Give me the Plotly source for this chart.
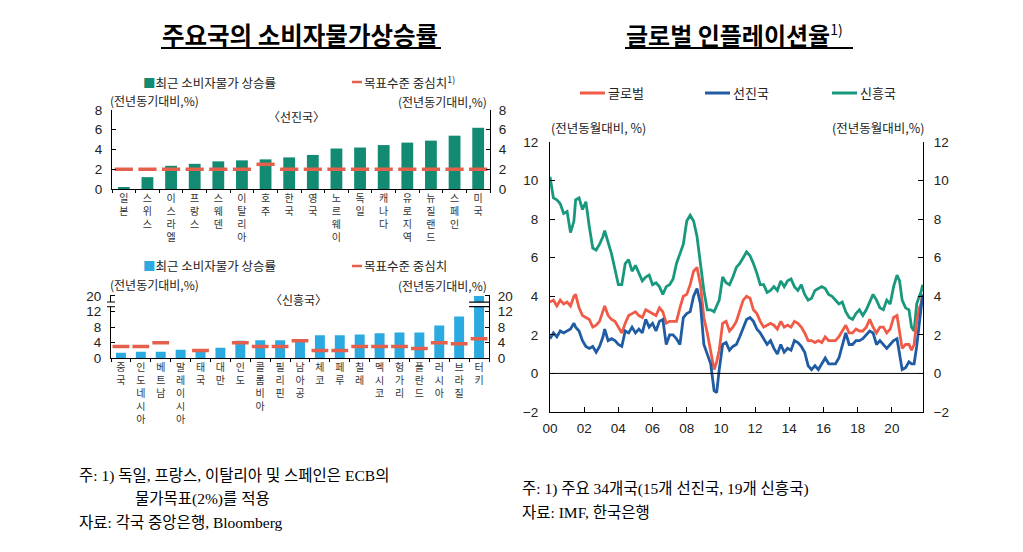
import plotly.graph_objects as go

# ---------------- data ----------------
adv_names = ["일본", "스위스", "이스라엘", "프랑스", "스웨덴", "이탈리아", "호주", "한국",
             "영국", "노르웨이", "독일", "캐나다", "유로지역", "뉴질랜드", "스페인", "미국"]
adv_cpi = [0.2, 1.2, 2.35, 2.55, 2.8, 2.9, 3.0, 3.2, 3.45, 4.1, 4.2, 4.45, 4.7, 4.9, 5.4, 6.2]
adv_target = [2, 2, 2, 2, 2, 2, 2.5, 2, 2, 2, 2, 2, 2, 2, 2, 2]

em_names = ["중국", "인도네시아", "베트남", "말레이시아", "태국", "대만", "인도", "콜롬비아",
            "필리핀", "남아공", "체코", "페루", "칠레", "멕시코", "헝가리", "폴란드",
            "러시아", "브라질", "터키"]
em_cpi = [1.4, 1.7, 1.7, 2.2, 1.9, 2.7, 4.5, 4.6, 4.6, 4.8, 5.9, 5.9, 6.1, 6.4, 6.6, 6.6,
          8.4, 10.7, 19.9]
em_target = [3, 3, 4, None, 2, None, 4, 3, 3, 4.5, 2, 2, 3, 3, 3, 2.5, 4, 3.75, 5]

years = [2000.0, 2000.2, 2000.4, 2000.6, 2000.8, 2001.0, 2001.2, 2001.4, 2001.5, 2001.7,
         2001.9, 2002.1, 2002.3, 2002.5, 2002.7, 2002.9, 2003.1, 2003.2, 2003.4, 2003.6,
         2003.8, 2004.0, 2004.2, 2004.4, 2004.6, 2004.8, 2005.0, 2005.2, 2005.4, 2005.6,
         2005.8, 2006.0, 2006.2, 2006.4, 2006.6, 2006.8, 2007.0, 2007.2, 2007.4, 2007.6,
         2007.8, 2008.0, 2008.2, 2008.4, 2008.6, 2008.8, 2009.0, 2009.2, 2009.4, 2009.6,
         2009.75, 2009.9, 2010.1, 2010.3, 2010.5, 2010.7, 2010.9, 2011.1, 2011.3, 2011.5,
         2011.7, 2011.9, 2012.1, 2012.3, 2012.5, 2012.7, 2012.9, 2013.1, 2013.3, 2013.5,
         2013.7, 2013.9, 2014.1, 2014.3, 2014.5, 2014.7, 2014.9, 2015.1, 2015.3, 2015.5,
         2015.7, 2015.9, 2016.1, 2016.3, 2016.5, 2016.7, 2016.9, 2017.1, 2017.3, 2017.5,
         2017.7, 2017.9, 2018.1, 2018.3, 2018.5, 2018.7, 2018.9, 2019.1, 2019.3, 2019.5,
         2019.7, 2019.9, 2020.1, 2020.3, 2020.45, 2020.6, 2020.8, 2021.0, 2021.15, 2021.3,
         2021.45, 2021.6, 2021.7, 2021.8]

glob = [3.7, 3.8, 3.5, 3.8, 3.6, 3.7, 3.5, 4.0, 4.1, 3.4,
        3.0, 2.9, 2.8, 2.4, 2.5, 2.7, 3.3, 3.5, 3.0, 2.8,
        2.7, 2.4, 2.1, 2.6, 3.0, 3.1, 3.2, 3.0, 2.9, 3.3,
        3.2, 3.1, 3.0, 3.4, 3.2, 2.6, 2.7, 2.7, 2.7, 3.4,
        4.0, 4.1, 4.6, 5.3, 5.5, 4.6, 2.9, 2.1, 1.2, 0.2,
        0.6, 1.2, 2.6, 2.7, 2.2, 2.4, 2.7, 3.2, 3.8, 4.0,
        3.9, 3.3, 3.1, 2.7, 2.4, 2.5, 2.6, 2.5, 2.3, 2.7,
        2.4, 2.5, 2.4, 2.7, 2.6, 2.4, 2.1, 1.7, 1.7, 1.6,
        1.7, 1.6, 1.9, 1.7, 1.7, 1.7, 1.9, 2.2, 2.5, 2.1,
        2.1, 2.3, 2.2, 2.2, 2.4, 2.8, 2.4, 2.1, 2.4, 2.4,
        2.1, 2.3, 2.9, 3.0, 2.2, 1.3, 1.5, 1.5, 1.2, 1.5,
        2.7, 3.4, 3.6, 4.1]

adv = [1.8, 2.1, 1.9, 2.2, 2.1, 2.2, 2.3, 2.6, 2.4, 2.2,
       1.7, 1.4, 1.3, 1.4, 1.1, 1.4, 1.9, 2.3, 1.7, 1.8,
       1.7, 1.5, 1.4, 2.2, 2.1, 2.4, 2.1, 2.3, 2.1, 2.8,
       2.4, 2.6, 2.2, 2.7, 2.8, 1.5, 2.0, 2.0, 1.8, 1.5,
       2.9, 3.1, 3.2, 4.0, 4.4, 3.6, 1.5, 1.0, 0.5, -0.9,
       -1.0, 0.2, 1.5, 1.6, 1.2, 1.4, 1.5, 1.9, 2.4, 2.8,
       2.9, 2.7, 2.3, 2.1, 1.8, 1.5, 1.7, 1.3, 1.0, 1.5,
       1.1, 1.3, 1.2, 1.7, 1.6, 1.4, 1.1, 0.4, 0.2, 0.4,
       0.2, 0.5, 0.8, 0.5, 0.5, 0.5, 0.8, 1.5, 2.1, 1.5,
       1.5, 1.7, 1.7, 1.8, 2.0, 2.2, 2.1, 1.5, 1.7, 1.5,
       1.3, 1.5, 1.7, 1.8, 1.1, 0.2, 0.3, 0.6, 0.5, 0.5,
       1.4, 2.7, 3.4, 4.1]

emg = [10.2, 9.1, 9.0, 8.8, 8.3, 8.4, 7.3, 7.9, 9.0, 9.1,
       8.5, 8.9, 7.6, 6.5, 6.4, 6.7, 7.1, 7.4, 6.8, 6.2,
       5.4, 4.6, 4.6, 5.7, 5.9, 5.3, 5.6, 5.2, 4.8, 5.0,
       5.1, 4.6, 4.7, 4.5, 4.1, 4.5, 4.6, 4.9, 5.7, 6.2,
       6.7, 7.9, 8.2, 7.9, 7.1, 5.7, 4.3, 3.3, 3.3, 3.2,
       3.5, 3.8, 5.0, 4.7, 4.6, 5.0, 5.5, 5.7, 6.0, 6.3,
       6.1, 5.7, 5.2, 4.6, 4.6, 4.2, 4.3, 4.5, 4.3, 4.8,
       4.5, 4.8, 4.9, 4.5, 4.3, 4.6, 4.1, 3.8, 3.9, 4.3,
       4.4, 4.5, 4.4, 4.1, 4.0, 3.8, 3.6, 3.7, 3.2, 2.9,
       2.8, 3.1, 3.3, 3.0, 3.3, 3.7, 4.1, 3.8, 3.4, 3.3,
       3.8, 3.6, 4.5, 5.1, 4.8, 3.8, 3.4, 3.3, 2.4, 2.2,
       3.6, 4.0, 4.2, 4.6]

year_ticks = [2000, 2002, 2004, 2006, 2008, 2010, 2012, 2014, 2016, 2018, 2020]
year_labels = ["00", "02", "04", "06", "08", "10", "12", "14", "16", "18", "20"]

# ---------------- style ----------------
W, H = 1023, 552
C_ADV_BAR = "#138b73"
C_EM_BAR = "#2aaae0"
C_TGT = "#e4604d"
C_GLOB = "#ef5b47"
C_ADVL = "#1f5ca3"
C_EML = "#18987c"
KFONT = "Noto Sans CJK KR"
NFONT = "Liberation Sans, Noto Sans CJK KR"
SFONT = "Liberation Serif, Noto Sans CJK KR"


def PX(x):
    return x / W


def PY(y):
    return 1 - y / H


def vert(name):
    return "<br>".join(list(name))


BREAK = 12.0


def brk(v):
    return v if v <= BREAK else BREAK + (v - BREAK) / 2.0


em_plot = [brk(v) for v in em_cpi]
em_tgt_plot = [None if t is None else brk(t) for t in em_target]

fig = go.Figure()

# top-left: advanced
fig.add_trace(go.Bar(x=adv_names, y=adv_cpi, marker_color=C_ADV_BAR, name="최근 소비자물가 상승률",
                     xaxis="x", yaxis="y", showlegend=False))
fig.add_trace(go.Scatter(x=adv_names, y=adv_target, mode="markers", name="목표수준 중심치",
                         marker=dict(symbol="line-ew", size=13, line=dict(width=3.5, color=C_TGT)),
                         xaxis="x", yaxis="y", showlegend=False))
fig.add_trace(go.Scatter(x=adv_names, y=adv_cpi, mode="markers", marker=dict(opacity=0),
                         xaxis="x", yaxis="y4", showlegend=False, hoverinfo="skip"))

# bottom-left: emerging
fig.add_trace(go.Bar(x=em_names, y=em_plot, marker_color=C_EM_BAR, name="최근 소비자물가 상승률",
                     xaxis="x2", yaxis="y2", showlegend=False, customdata=em_cpi))
fig.add_trace(go.Scatter(x=em_names, y=em_tgt_plot, mode="markers", name="목표수준 중심치",
                         marker=dict(symbol="line-ew", size=12, line=dict(width=3.5, color=C_TGT)),
                         xaxis="x2", yaxis="y2", showlegend=False))
fig.add_trace(go.Scatter(x=em_names, y=em_plot, mode="markers", marker=dict(opacity=0),
                         xaxis="x2", yaxis="y5", showlegend=False, hoverinfo="skip"))

# right: global inflation
for ys, col, nm in [(emg, C_EML, "신흥국"), (glob, C_GLOB, "글로벌"), (adv, C_ADVL, "선진국")]:
    fig.add_trace(go.Scatter(x=years, y=ys, mode="lines", line=dict(color=col, width=2.8),
                             name=nm, xaxis="x3", yaxis="y3", showlegend=False))
fig.add_trace(go.Scatter(x=years, y=glob, mode="markers", marker=dict(opacity=0),
                         xaxis="x3", yaxis="y6", showlegend=False, hoverinfo="skip"))

tickfont = dict(family=NFONT, size=13.5, color="#222")
axline = dict(showline=True, linecolor="black", linewidth=1, showgrid=False, zeroline=False,
              automargin=False)
cat_font = dict(family=KFONT, size=10, color="#333")

layout = dict(
    template="none",
    width=W, height=H, margin=dict(l=0, r=0, t=0, b=0, pad=0, autoexpand=False),
    paper_bgcolor="white", plot_bgcolor="rgba(0,0,0,0)",
    bargap=0.5, barmode="overlay", showlegend=False,
    font=dict(family=KFONT, color="#222"),
    # top-left
    xaxis=dict(domain=[PX(112), PX(490)], anchor="y", type="category", range=[-0.5, 15.5],
               ticks="outside", ticklen=3, tickson="boundaries", tickcolor="black",
               tickvals=adv_names, ticktext=[vert(n) for n in adv_names],
               tickfont=cat_font, tickangle=0, **axline),
    yaxis=dict(domain=[PY(189), PY(110)], anchor="x", range=[0, 8], tickvals=[0, 2, 4, 6, 8],
               ticks="inside", ticklen=4, tickcolor="black", tickfont=tickfont,
               ticklabelstandoff=6, **axline),
    yaxis4=dict(overlaying="y", side="right", anchor="x", range=[0, 8], tickvals=[0, 2, 4, 6, 8],
                ticks="inside", ticklen=4, tickcolor="black", tickfont=tickfont,
                ticklabelstandoff=5, **axline),
    # bottom-left
    xaxis2=dict(domain=[PX(111), PX(489)], anchor="y2", type="category", range=[-0.5, 18.5],
                ticks="outside", ticklen=3, tickson="boundaries", tickcolor="black",
                tickvals=em_names, ticktext=[vert(n) for n in em_names],
                tickfont=cat_font, tickangle=0, **axline),
    yaxis2=dict(domain=[PY(358.3), PY(294.6)], anchor="x2", range=[0, 16.3],
                tickvals=[0, 4, 8, 12, 16], ticktext=["0", "4", "8", "12", "20"],
                ticks="inside", ticklen=4, tickcolor="black", tickfont=tickfont,
                ticklabelstandoff=6, **axline),
    yaxis5=dict(overlaying="y2", side="right", anchor="x2", range=[0, 16.3],
                tickvals=[0, 4, 8, 12, 16], ticktext=["0", "4", "8", "12", "20"],
                ticks="inside", ticklen=4, tickcolor="black", tickfont=tickfont,
                ticklabelstandoff=5, **axline),
    # right chart
    xaxis3=dict(domain=[PX(550), PX(923)], anchor="y3", range=[2000, 2021.82],
                tickvals=year_ticks, ticktext=year_labels, ticks="inside", ticklen=5,
                tickcolor="black", tickfont=dict(family=NFONT, size=13.5, color="#222"),
                ticklabelstandoff=4, **axline),
    yaxis3=dict(domain=[PY(412), PY(142)], anchor="x3", range=[-2, 12],
                tickvals=[-2, 0, 2, 4, 6, 8, 10, 12], ticks="inside", ticklen=5,
                tickcolor="black", tickfont=tickfont, ticklabelstandoff=8, **axline),
    yaxis6=dict(overlaying="y3", side="right", anchor="x3", range=[-2, 12],
                tickvals=[-2, 0, 2, 4, 6, 8, 10, 12], ticks="inside", ticklen=5,
                tickcolor="black", tickfont=tickfont, ticklabelstandoff=7, **axline),
)
fig.update_layout(**layout)

shapes = []
ann = []


def text(x, y, s, size=13, xanchor="left", family=KFONT, color="#222", yanchor="middle"):
    ann.append(dict(x=PX(x), y=PY(y), xref="paper", yref="paper", text=s, showarrow=False,
                    xanchor=xanchor, yanchor=yanchor, font=dict(family=family, size=size, color=color)))


def hline(x0, x1, y, color="black", width=1):
    shapes.append(dict(type="line", xref="paper", yref="paper", x0=PX(x0), x1=PX(x1),
                       y0=PY(y), y1=PY(y), line=dict(color=color, width=width)))


# titles
text(160, 35, "<b>주요국의 소비자물가상승률</b>", size=24.5, family=KFONT, color="black")
hline(161, 441, 48, width=2)
text(624, 35, "<b>글로벌 인플레이션율</b><sup><span style='font-size:14px'>1)</span></sup>",
     size=24, family=KFONT, color="black")
hline(625, 853, 48, width=2)

# top-left legend & labels
text(141, 82, f"<span style='color:{C_ADV_BAR}'>■</span>최근 소비자물가 상승률", size=12.5)
hline(352, 362, 82, color=C_TGT, width=2.5)
text(362, 82, "목표수준 중심치<sup>1)</sup>", size=12.5)
text(108, 100, "(전년동기대비,%)", size=12)
text(489, 102, "(전년동기대비,%)", size=12, xanchor="right")
text(296, 117, "〈선진국〉", size=12, xanchor="center")

# bottom-left legend & labels
text(141, 266, f"<span style='color:{C_EM_BAR}'>■</span>최근 소비자물가 상승률", size=12.5)
hline(352, 362, 266, color=C_TGT, width=2.5)
text(362, 266, "목표수준 중심치", size=12.5)
text(108, 284, "(전년동기대비,%)", size=12)
text(489, 285, "(전년동기대비,%)", size=12, xanchor="right")
text(298, 299, "〈신흥국〉", size=12, xanchor="center")

# broken-axis marks on Turkey bar and left axis
n_em = len(em_names)
shapes.append(dict(type="rect", xref="x2", yref="y2", x0=n_em - 1.45, x1=n_em - 0.55,
                   y0=13.2, y1=14.4, fillcolor="white", line=dict(width=0)))
for yy in (13.2, 14.4):
    shapes.append(dict(type="line", xref="x2", yref="y2", x0=n_em - 1.5, x1=n_em - 0.5,
                       y0=yy, y1=yy, line=dict(color="black", width=1.2)))
shapes.append(dict(type="rect", xref="paper", yref="y2", x0=PX(108), x1=PX(114),
                   y0=13.2, y1=14.4, fillcolor="white", line=dict(width=0)))
for yy in (13.2, 14.4):
    shapes.append(dict(type="line", xref="paper", yref="y2", x0=PX(107), x1=PX(115),
                       y0=yy, y1=yy, line=dict(color="black", width=1)))

# right chart: zero line
shapes.append(dict(type="line", xref="x3", yref="y3", x0=2000, x1=2021.82, y0=0, y1=0,
                   line=dict(color="black", width=1)))

# right legend
for x0, col, nm in [(580, C_GLOB, "글로벌"), (705, C_ADVL, "선진국"), (832, C_EML, "신흥국")]:
    hline(x0, x0 + 25, 93, color=col, width=3)
    text(x0 + 26, 93, nm, size=13)
text(549, 127, "(전년동월대비, %)", size=12.5)
text(926, 127, "(전년동월대비,%)", size=12.5, xanchor="right")

# notes
text(77, 476, "주: 1) 독일, 프랑스, 이탈리아 및 스페인은 ECB의", size=15.5, family=SFONT, color="black")
text(133, 499, "물가목표(2%)를 적용", size=15.5, family=SFONT, color="black")
text(77, 522, "자료: 각국 중앙은행, Bloomberg", size=15.5, family=SFONT, color="black")
text(520, 489, "주: 1) 주요 34개국(15개 선진국, 19개 신흥국)", size=15.5, family=SFONT, color="black")
text(520, 512, "자료: IMF, 한국은행", size=15.5, family=SFONT, color="black")

fig.update_layout(shapes=shapes, annotations=ann)

fig.write_html("out.html", config={"displayModeBar": False},
               post_script="document.body.style.margin='0px';document.body.style.overflow='hidden';")
